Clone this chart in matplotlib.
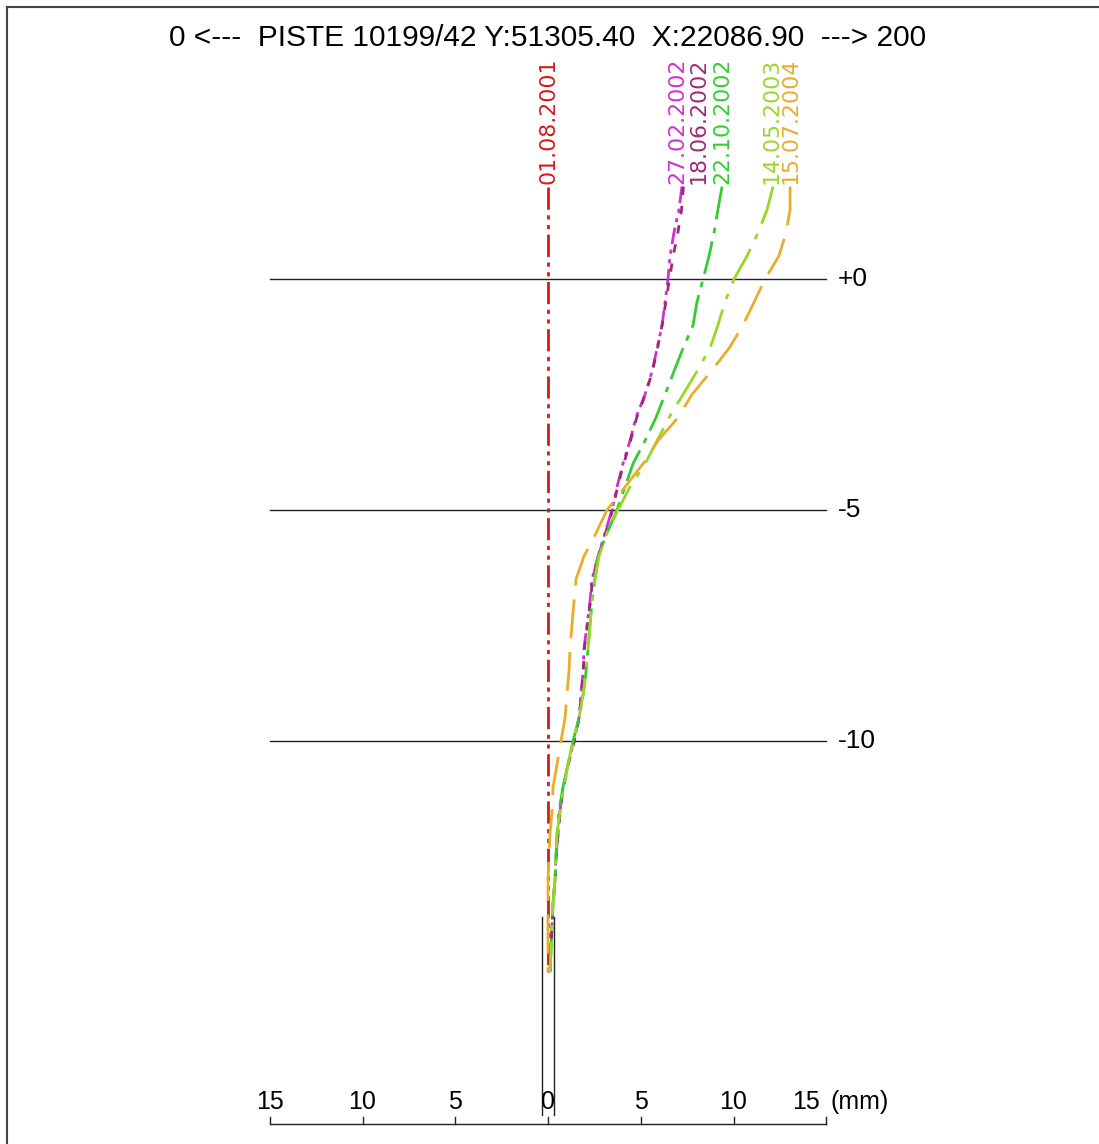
import numpy as np
import matplotlib
matplotlib.use("Agg")
import matplotlib.pyplot as plt

plt.rcParams['font.family'] = ['Liberation Sans', 'DejaVu Sans']

# depths (m) at which the readings are given
depth = [2.0, 1.5, 1.0, 0.5, 0.0, -0.5, -1.0, -1.5, -2.0, -2.5, -3.0, -3.5,
         -4.0, -4.5, -5.0, -5.5, -6.0, -6.5, -7.0, -7.5, -8.0, -8.5, -9.0,
         -9.5, -10.0, -10.5, -11.0, -11.5, -12.0, -12.5, -13.0, -13.5, -14.0,
         -14.5, -15.0]

# cumulative displacement (mm) for each reading date
d_010801 = [0.0] * len(depth)
d_270202 = [7.22, 7.06, 6.79, 6.58, 6.47, 6.31, 6.15, 5.88, 5.61, 5.23, 4.74, 4.42,
            4.04, 3.72, 3.45, 3.07, 2.70, 2.37, 2.26, 2.10, 1.94, 1.89, 1.78,
            1.67, 1.40, 1.08, 0.81, 0.65, 0.54, 0.43, 0.38, 0.27, 0.22, 0.16, 0.11]
d_180602 = [7.30, 7.20, 7.00, 6.75, 6.55, 6.35, 6.15, 5.90, 5.63, 5.25, 4.78, 4.45,
            4.08, 3.75, 3.48, 3.10, 2.72, 2.40, 2.28, 2.12, 1.96, 1.90, 1.80,
            1.68, 1.42, 1.10, 0.83, 0.66, 0.55, 0.44, 0.38, 0.28, 0.22, 0.16, 0.11]
d_221002 = [9.38, 9.16, 8.95, 8.68, 8.36, 8.03, 7.82, 7.28, 6.79, 6.31, 5.82, 5.23,
            4.58, 4.15, 3.72, 3.18, 2.70, 2.53, 2.37, 2.26, 2.16, 2.05, 1.89,
            1.67, 1.35, 1.08, 0.81, 0.59, 0.49, 0.43, 0.38, 0.27, 0.22, 0.16, 0.11]
d_140503 = [12.13, 11.81, 11.32, 10.73, 10.03, 9.54, 9.16, 8.73, 8.03, 7.28, 6.52, 5.88,
            5.23, 4.42, 3.77, 3.18, 2.75, 2.53, 2.37, 2.26, 2.16, 2.05, 1.89,
            1.67, 1.35, 1.08, 0.86, 0.65, 0.49, 0.43, 0.38, 0.27, 0.22, 0.16, 0.11]
d_150704 = [13.05, 13.05, 12.83, 12.45, 11.70, 11.11, 10.51, 9.76, 8.79, 7.76, 7.01, 5.93,
            5.12, 4.15, 3.18, 2.59, 1.94, 1.51, 1.40, 1.29, 1.19, 1.13, 1.02,
            0.92, 0.70, 0.49, 0.27, 0.22, 0.11, 0.05, 0.0, 0.0, 0.0, 0.0, 0.0]

dates = ['01.08.2001', '27.02.2002', '18.06.2002', '22.10.2002', '14.05.2003', '15.07.2004']
series = [d_010801, d_270202, d_180602, d_221002, d_140503, d_150704]
colors = ['#d41a1a', '#d030d0', '#a0287a', '#33cc33', '#99d62a', '#e8ad2a']
dashes = [(8, 2, 1.5, 2, 1.5, 2), (6, 2, 1.5, 2, 1.5, 2), (3, 4), (12, 3, 2, 3),
          (14, 4, 2, 4), (14, 5)]
label_x = [0.0, 7.0, 8.1, 9.4, 12.05, 13.1]

depth_lines = [0, -5, -10]
depth_labels = ['+0', '-5', '-10']
scale_ticks = [-15, -10, -5, 0, 5, 10, 15]

fig = plt.figure(figsize=(10.99, 11.44), dpi=100)
ax = fig.add_axes([0, 0, 1, 1])
# 18.55 px per mm horizontally, 46.2 px per m vertically
ax.set_xlim(-548 / 18.55, (1099 - 548) / 18.55)
ax.set_ylim(-(1144 - 279) / 46.2, 279 / 46.2)
ax.axis('off')

# frame (top and left only)
fig.add_artist(plt.Line2D([0.0065, 0.0065], [0, 0.9935], color='#444444', lw=1.5))
fig.add_artist(plt.Line2D([0.0065, 1], [0.9935, 0.9935], color='#444444', lw=1.5))

fig.text(0.4985, 0.967, '0 <---  PISTE 10199/42 Y:51305.40  X:22086.90  ---> 200',
         ha='center', va='center', fontsize=21.5)

for d, lab in zip(depth_lines, depth_labels):
    ax.plot([-15, 15], [d, d], color='#222222', lw=1.0)
    ax.text(15.6, d, lab, ha='left', va='center', fontsize=19)

# casing tube
ax.plot([-0.32, -0.32], [-13.8, -18.1], color='#222222', lw=1.0)
ax.plot([0.32, 0.32], [-13.8, -18.1], color='#222222', lw=1.0)

for vals, c, ds in zip(series, colors, dashes):
    ax.plot(vals, depth, color=c, lw=2.0, dashes=ds)

for lx, c, name in zip(label_x, colors, dates):
    ax.text(lx, 2.05, name, rotation=90, ha='center', va='bottom', color=c,
            fontsize=15.8, family='DejaVu Sans')

# horizontal scale (mm)
base = -18.3
ax.plot([-15, 15], [base, base], color='#222222', lw=1.0)
for t in scale_ticks:
    ax.plot([t, t], [base, base + 0.17], color='#222222', lw=1.0)
    tx = t - 1.1 if t == scale_ticks[-1] else t
    ax.text(tx, base + 0.22, str(abs(t)), ha='center', va='bottom', fontsize=18)
ax.text(15.25, base + 0.22, '(mm)', ha='left', va='bottom', fontsize=18)

fig.savefig('out.png', dpi=100)
